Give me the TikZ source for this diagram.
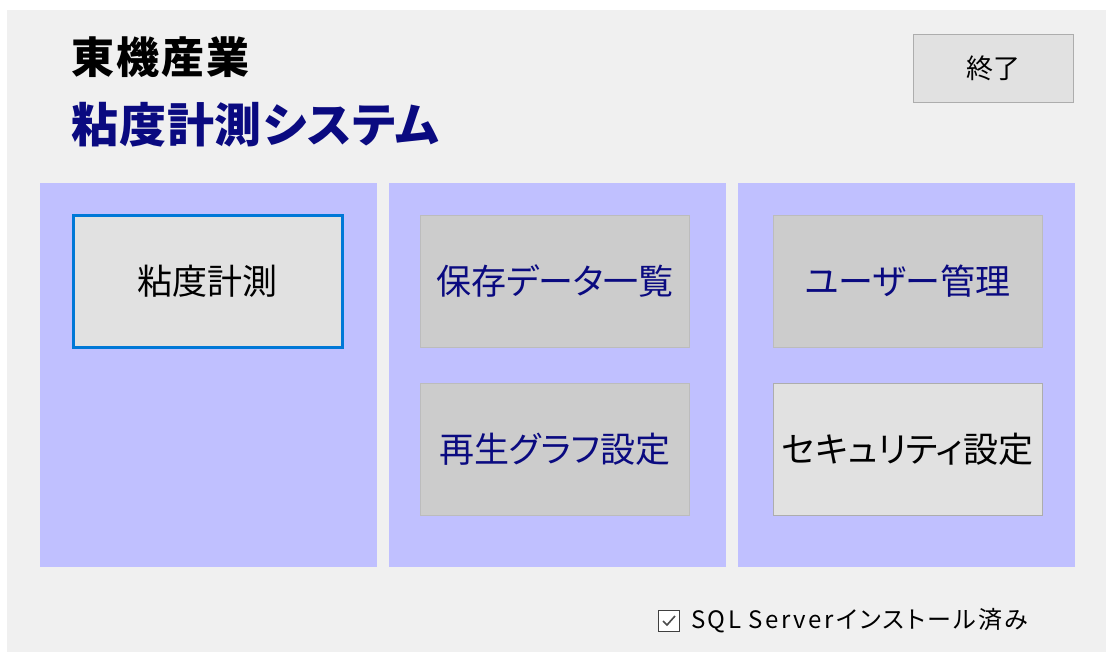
\documentclass[tikz,border=0pt]{standalone}
\usepackage{fontspec}
\setmainfont{Noto Sans CJK JP}[RawFeature=+palt]
\begin{document}
\begin{tikzpicture}[x=1pt,y=-1pt]
  % Colors
  \definecolor{formgrey}{RGB}{240,240,240}
  \definecolor{panelblue}{RGB}{192,192,255}
  \definecolor{btnface}{RGB}{225,225,225}
  \definecolor{btndark}{RGB}{204,204,204}
  \definecolor{btnedge}{RGB}{173,173,173}
  \definecolor{focusblue}{RGB}{0,120,215}
  \definecolor{navy}{RGB}{10,10,128}

  % Styles
  \tikzstyle{panel}=[fill=panelblue]
  \tikzstyle{button}=[draw=btnedge,fill=btnface,line width=1pt,minimum width=269pt,minimum height=132pt,inner sep=0pt,font=\fontsize{35}{40}\selectfont]
  \tikzstyle{locked}=[button,fill=btndark,draw=btndark!92!black,text=navy]
  \tikzstyle{title}=[anchor=west,inner sep=0pt]

  % The graphic
  \useasboundingbox (0,0) rectangle (1106,653);
  \fill[white] (0,0) rectangle (1106,653);
  \fill[formgrey] (7,10) rectangle (1106,652);

  \foreach \x in {40,389,738}
    \fill[panel] (\x,183) rectangle +(337,384);

  \node[title,font=\fontsize{43}{48}\bfseries\addfontfeature{LetterSpace=5}\selectfont] (maker) at (71,57) {東機産業};
  \node[title,text=navy,font=\fontsize{47}{52}\bfseries\addfontfeature{LetterSpace=2}\selectfont] (system) at (71,125) {粘度計測システム};

  \node[button,minimum width=160pt,minimum height=68pt,font=\fontsize{27}{32}\selectfont] (quit) at (993,68) {終了};

  \node[button,draw=focusblue,line width=3pt] (measure) at (207.5,281) {粘度計測};
  \node[locked] (saved) at (555,281) {保存データ一覧};
  \node[locked] (replay) at (555,449) {再生グラフ設定};
  \node[locked] (users) at (907.5,281) {ユーザー管理};
  \node[button] (security) at (907.5,449) {セキュリティ設定};

  \node[draw=black!75,fill=white,line width=1.2pt,minimum size=21pt,inner sep=0pt] (check) at (669,621) {};
  \draw[black!70,line width=1.6pt,shift={(check.center)}] (-6,0) -- (-2,4) -- (6,-5);
  \node[title,font=\fontsize{24}{28}\addfontfeature{LetterSpace=10}\selectfont] (sqlnote) at (691,621) {SQL Serverインストール済み};
\end{tikzpicture}
\end{document}
